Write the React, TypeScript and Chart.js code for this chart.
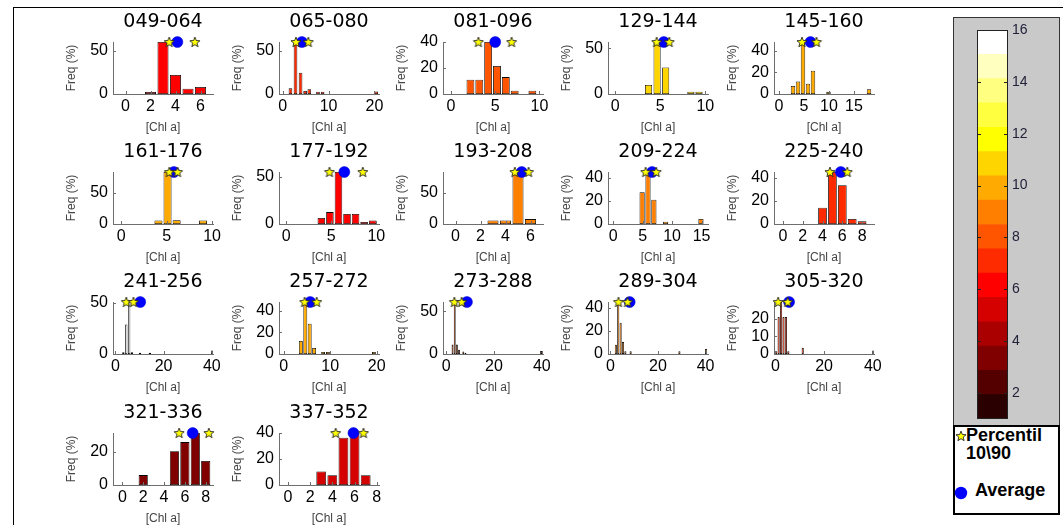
import React, { useEffect, useRef } from "react";
import { Chart, registerables } from "chart.js";

Chart.register(...registerables);

const FONT = '"Liberation Sans", Arial, Helvetica, sans-serif';
const TITLE_FONT = '"DejaVu Sans", Verdana, sans-serif';
Chart.defaults.font.family = FONT;

// ---------- data ----------
const titles = ["049-064", "065-080", "081-096", "129-144", "145-160", "161-176", "177-192", "193-208", "209-224", "225-240", "241-256", "257-272", "273-288", "289-304", "305-320", "321-336", "337-352"];
const barColors = ["#FF0000", "#FF2B00", "#FF5500", "#FFD500", "#FFAA00", "#FFAA00", "#FF0000", "#FF8000", "#FF8000", "#FF2B00", "#FFFFFF", "#FFAA00", "#FF5500", "#FF8000", "#FF2B00", "#800000", "#D50000"];
const binCenters = [
  [2, 3, 4, 5, 6],
  [1.7, 2.8, 3.9, 4.9, 5.8, 7.7, 8.7, 20.4],
  [2.2, 3.2, 4.2, 5.2, 6.2, 7.2, 9.2],
  [3.7, 4.65, 5.6, 8.4, 9.3],
  [2.8, 3.8, 4.8, 5.8, 6.8, 9.9, 18],
  [4.1, 5.1, 6.1, 9.0],
  [3.9, 4.85, 5.8, 6.75, 7.7, 8.65, 9.6],
  [3, 4, 5, 6],
  [4.9, 5.9, 6.9, 8.9, 14.9],
  [4, 5, 6, 7, 8],
  [3.3, 4.5, 5.7, 6.8, 10.2, 14.3, 40.2],
  [3.7, 4.65, 5.6, 6.55, 8.5, 9.5, 19.4],
  [2.7, 3.6, 4.5, 5.4, 7.2, 8.1, 39.7],
  [2.3, 3.3, 4.3, 5.3, 6.3, 8.5, 29, 40.2],
  [0.3, 1.3, 2.3, 3.3, 4.3, 5.3, 11.2, 40.2],
  [2, 5, 6, 7, 8],
  [3, 4, 5, 6, 7],
];
const freqValues = [
  [2.3, 60, 22, 6, 8],
  [6.5, 60, 24.5, 3.5, 5.4, 2.7, 2.7, 2.9],
  [11, 11, 40, 21.5, 13, 2.5, 2.5],
  [10, 57, 29, 2.5, 2.5],
  [7.5, 11.5, 48, 9.4, 21.5, 2, 4.5],
  [5.5, 83, 6, 5.5],
  [6.3, 12.6, 55, 10.5, 10.5, 2.1, 3.8],
  [5.7, 5.7, 84, 7.9],
  [27.5, 45, 21, 2, 4.3],
  [14, 45, 33.5, 4.3, 2.3],
  [1.6, 29, 51, 1.6, 1.3, 1.3, 3.5],
  [12, 48, 28, 5.6, 1.9, 1.9, 1.9],
  [11, 61, 11, 5, 3, 1.5, 3.5],
  [8, 45, 27, 10.4, 2.3, 2.3, 2.3, 4.3],
  [1.5, 21, 29.5, 21, 21, 1.5, 3.5, 2],
  [6, 20.5, 26, 31.5, 14.5],
  [10.4, 7.5, 36.3, 40, 7.5],
];
const p10Values = [3.5, 2.9, 3.1, 4.6, 4.6, 5.3, 4.8, 4.75, 5.5, 4.75, 4.5, 4.5, 3.45, 3.4, 1.1, 5.45, 4.3];
const p90Values = [5.55, 5.6, 6.85, 6.0, 7.5, 6.2, 8.5, 5.85, 7.3, 6.5, 7.5, 7.1, 6.5, 7.2, 5.0, 8.3, 6.8];
const meanValues = [4.15, 4.2, 5.0, 5.4, 6.3, 5.8, 6.45, 5.3, 6.6, 5.85, 10.3, 5.7, 8.7, 8.1, 5.6, 6.75, 5.9];
const xMinValues = [-1, -0.8, -0.9, -0.8, -1, -0.9, -0.8, -1, -0.9, -0.9, -1, -1, -1.3, -1, -0.6, -0.9, -0.8];
const xMaxValues = [7, 21, 10.4, 10.3, 19, 10.1, 10.3, 7, 16.1, 9.2, 40.5, 20.5, 40.5, 41, 40.5, 8.7, 8.2];
const xTickValues = [[0, 2, 4, 6], [0, 10, 20], [0, 5, 10], [0, 5, 10], [0, 5, 10, 15], [0, 5, 10], [0, 5, 10], [0, 2, 4, 6], [0, 5, 10, 15], [0, 2, 4, 6, 8], [0, 20, 40], [0, 10, 20], [0, 20, 40], [0, 20, 40], [0, 20, 40], [0, 2, 4, 6, 8], [0, 2, 4, 6, 8]];
const yMaxValues = [60, 60, 40, 57, 48, 83, 55, 84, 45, 45, 51, 48, 61, 45, 29.5, 31.5, 40];
const yTickValues = [[0, 50], [0, 50], [0, 20, 40], [0, 50], [0, 20, 40], [0, 50], [0, 50], [0, 50], [0, 20, 40], [0, 20, 40], [0, 50], [0, 20, 40], [0, 50], [0, 20, 40], [0, 10, 20], [0, 20], [0, 20, 40]];

// colour bar (hot, 16 levels over 1..16)
const cmapColors = ["#2B0000", "#550000", "#800000", "#AA0000", "#D50000", "#FF0000", "#FF2B00", "#FF5500", "#FF8000", "#FFAA00", "#FFD500", "#FFFF00", "#FFFF40", "#FFFF80", "#FFFFBF", "#FFFFFF"];
const cmapEdges = [1, 1.9375, 2.875, 3.8125, 4.75, 5.6875, 6.625, 7.5625, 8.5, 9.4375, 10.375, 11.3125, 12.25, 13.1875, 14.125, 15.0625, 16];
const cbarTicks = [2, 4, 6, 8, 10, 12, 14, 16];

// ---------- layout ----------
const PLOT_LEFT = [113, 279, 443, 608, 774];
const PLOT_TOP = [42, 172, 302, 433];
const PLOT_W = 100;
const PLOT_H = 52;
const PAD_L = 60;
const PAD_T = 42;
const PAD_R = 16;
const PAD_B = 42;
const AXIS = "#6e6e6e";

function starPoints(cx: number, cy: number, R: number, r: number): [number, number][] {
  const pts: [number, number][] = [];
  for (let i = 0; i < 10; i++) {
    const rad = i % 2 === 0 ? R : r;
    const a = -Math.PI / 2 + (i * Math.PI) / 5;
    pts.push([cx + rad * Math.cos(a), cy + rad * Math.sin(a)]);
  }
  return pts;
}

let starCanvas: HTMLCanvasElement | null = null;
function getStar(): HTMLCanvasElement {
  if (starCanvas) return starCanvas;
  const size = 12;
  const c = document.createElement("canvas");
  c.width = size;
  c.height = size;
  const ctx = c.getContext("2d")!;
  const pts = starPoints(size / 2, size / 2 + 0.4, 5.3, 2.3);
  ctx.beginPath();
  pts.forEach(([x, y], i) => (i === 0 ? ctx.moveTo(x, y) : ctx.lineTo(x, y)));
  ctx.closePath();
  ctx.fillStyle = "#FFFF00";
  ctx.fill();
  ctx.lineWidth = 0.9;
  ctx.strokeStyle = "#222";
  ctx.stroke();
  starCanvas = c;
  return c;
}

const panelDecor = {
  id: "panelDecor",
  afterDraw(chart: any, _args: any, opts: any) {
    const { ctx, chartArea: a, scales } = chart;
    ctx.save();
    ctx.strokeStyle = AXIS;
    ctx.lineWidth = 1;
    for (const t of scales.x.ticks) {
      const px = Math.round(scales.x.getPixelForValue(t.value)) + 0.5;
      ctx.beginPath();
      ctx.moveTo(px, a.bottom);
      ctx.lineTo(px, a.bottom - 3);
      ctx.stroke();
    }
    for (const t of scales.y.ticks) {
      const py = Math.round(scales.y.getPixelForValue(t.value)) + 0.5;
      ctx.beginPath();
      ctx.moveTo(a.left, py);
      ctx.lineTo(a.left + 3, py);
      ctx.stroke();
    }
    ctx.fillStyle = "#000";
    ctx.font = `19px ${TITLE_FONT}`;
    ctx.textAlign = "center";
    ctx.textBaseline = "middle";
    ctx.fillText(opts.title, (a.left + a.right) / 2, a.top - 20);
    ctx.restore();
  },
};

function HistPanel({ index }: { index: number }) {
  const ref = useRef<HTMLCanvasElement>(null);
  const col = index % 5;
  const row = Math.floor(index / 5);
  const cw = PAD_L + PLOT_W + PAD_R;
  const ch = PAD_T + PLOT_H + PAD_B;

  useEffect(() => {
    const bins = binCenters[index];
    const freqs = freqValues[index];
    const yMax = yMaxValues[index];
    const xt = xTickValues[index];
    const yt = yTickValues[index];
    const chart = new Chart(ref.current!, {
      type: "bar",
      data: {
        datasets: [
          {
            type: "scatter",
            data: [
              { x: p10Values[index], y: yMax },
              { x: p90Values[index], y: yMax },
            ],
            pointStyle: getStar(),
            pointRadius: 6,
            clip: false,
          } as any,
          {
            type: "scatter",
            data: [{ x: meanValues[index], y: yMax }],
            pointStyle: "circle",
            pointRadius: 5.5,
            backgroundColor: "#0000FF",
            borderColor: "#0000D0",
            borderWidth: 0.5,
            clip: false,
          } as any,
          {
            type: "bar",
            data: bins.map((b, i) => ({ x: b, y: freqs[i] })),
            backgroundColor: barColors[index],
            borderColor: "#000",
            borderWidth: 0.8,
            borderSkipped: false,
            barPercentage: 0.88,
            categoryPercentage: 1,
          } as any,
        ],
      },
      options: {
        responsive: false,
        animation: false,
        events: [],
        layout: { padding: { left: 0, top: PAD_T, right: PAD_R, bottom: 0 } },
        plugins: {
          legend: { display: false },
          tooltip: { enabled: false },
          panelDecor: { title: titles[index] },
        } as any,
        scales: {
          x: {
            type: "linear",
            min: xMinValues[index],
            max: xMaxValues[index],
            offset: false,
            afterBuildTicks: (s: any) => {
              s.ticks = xt.map((v) => ({ value: v }));
            },
            afterFit: (s: any) => {
              s.height = PAD_B;
              s.paddingLeft = 0;
              s.paddingRight = 0;
            },
            grid: { display: false, drawTicks: false },
            border: { display: true, color: AXIS, width: 1 },
            ticks: {
              padding: 3,
              color: "#000",
              font: { family: FONT, size: 16 },
              maxRotation: 0,
              autoSkip: false,
              callback: (v: any) => String(v),
            },
            title: {
              display: true,
              text: "[Chl a]",
              color: "#444",
              font: { family: FONT, size: 12 },
              padding: { top: 0, bottom: 1 },
            },
          },
          y: {
            min: 0,
            max: yMax,
            afterBuildTicks: (s: any) => {
              s.ticks = yt.map((v) => ({ value: v }));
            },
            afterFit: (s: any) => {
              s.width = PAD_L;
              s.paddingTop = 0;
              s.paddingBottom = 0;
            },
            grid: { display: false, drawTicks: false },
            border: { display: true, color: AXIS, width: 1 },
            ticks: {
              padding: 5,
              color: "#000",
              font: { family: FONT, size: 16 },
              autoSkip: false,
              callback: (v: any) => String(v),
            },
            title: {
              display: true,
              text: "Freq (%)",
              color: "#444",
              font: { family: FONT, size: 12 },
              padding: { top: 11.5, bottom: 0 },
            },
          },
        } as any,
      },
      plugins: [panelDecor as any],
    });
    return () => chart.destroy();
  }, [index]);

  return (
    <canvas
      ref={ref}
      width={cw}
      height={ch}
      style={{ position: "absolute", left: PLOT_LEFT[col] - PAD_L, top: PLOT_TOP[row] - PAD_T, width: cw, height: ch }}
    />
  );
}

const cbarDecor = {
  id: "cbarDecor",
  afterDraw(chart: any) {
    const { ctx, chartArea: a, scales } = chart;
    ctx.save();
    ctx.strokeStyle = "#222";
    ctx.lineWidth = 1;
    ctx.strokeRect(Math.round(a.left) + 0.5, Math.round(a.top) + 0.5, Math.round(a.right - a.left) - 1, Math.round(a.bottom - a.top) - 1);
    for (const t of scales.y.ticks) {
      const py = Math.round(scales.y.getPixelForValue(t.value)) + 0.5;
      ctx.beginPath();
      ctx.moveTo(a.left, py);
      ctx.lineTo(a.left + 4, py);
      ctx.moveTo(a.right, py);
      ctx.lineTo(a.right - 4, py);
      ctx.stroke();
    }
    ctx.restore();
  },
};

function ColorBar() {
  const ref = useRef<HTMLCanvasElement>(null);
  useEffect(() => {
    const chart = new Chart(ref.current!, {
      type: "bar",
      data: {
        labels: [""],
        datasets: cmapColors.map((c, i) => ({
          data: [[cmapEdges[i], cmapEdges[i + 1]]],
          backgroundColor: c,
          borderWidth: 0,
          barPercentage: 1,
          categoryPercentage: 1,
          grouped: false,
        })) as any,
      },
      options: {
        responsive: false,
        animation: false,
        events: [],
        layout: { padding: { left: 17, top: 20, right: 0, bottom: 11 } },
        plugins: { legend: { display: false }, tooltip: { enabled: false } },
        scales: {
          x: { display: false },
          y: {
            position: "right",
            min: 1,
            max: 16,
            afterBuildTicks: (s: any) => {
              s.ticks = cbarTicks.map((v) => ({ value: v }));
            },
            afterFit: (s: any) => {
              s.width = 52;
              s.paddingTop = 0;
              s.paddingBottom = 0;
            },
            grid: { display: false, drawTicks: false },
            border: { display: false },
            ticks: { padding: 4, color: "#22223a", font: { family: FONT, size: 14 }, autoSkip: false },
          },
        } as any,
      },
      plugins: [cbarDecor as any],
    });
    return () => chart.destroy();
  }, []);
  return <canvas ref={ref} width={100} height={420} style={{ position: "absolute", left: 960, top: 10, width: 100, height: 420 }} />;
}

function StarIcon({ left, top }: { left: number; top: number }) {
  const pts = starPoints(6, 6.4, 5.3, 2.3).map(([x, y]) => `${x.toFixed(2)},${y.toFixed(2)}`).join(" ");
  return (
    <svg width={12} height={12} style={{ position: "absolute", left, top }}>
      <polygon points={pts} fill="#FFFF00" stroke="#222" strokeWidth={0.9} />
    </svg>
  );
}

function Legend() {
  const text: React.CSSProperties = { position: "absolute", font: `bold 18px ${FONT}`, color: "#000", whiteSpace: "nowrap" };
  return (
    <div style={{ position: "absolute", left: 953, top: 425, width: 107, height: 90, boxSizing: "border-box", border: "2px solid #000", background: "#fff" }}>
      <StarIcon left={0} top={3} />
      <div style={{ ...text, left: 11, top: -1, lineHeight: "18px" }}>
        Percentil
        <br />
        {"10\\90"}
      </div>
      <svg width={14} height={14} style={{ position: "absolute", left: -1, top: 59 }}>
        <circle cx={7} cy={7} r={6.2} fill="#0000FF" />
      </svg>
      <div style={{ ...text, left: 20, top: 53, lineHeight: "20px" }}>Average</div>
    </div>
  );
}

export default function App() {
  return (
    <div style={{ position: "absolute", left: 0, top: 0, width: 1063, height: 525, background: "#fff", overflow: "hidden", fontFamily: FONT }}>
      <div style={{ position: "absolute", left: 13, top: 7, width: 1100, height: 600, borderTop: "1px solid #000", borderLeft: "1px solid #000" }} />
      {titles.map((t, i) => (
        <HistPanel key={t} index={i} />
      ))}
      <div style={{ position: "absolute", left: 953, top: 17, width: 107, height: 409, boxSizing: "border-box", border: "1px solid #333", background: "#C9C9C9" }} />
      <ColorBar />
      <Legend />
    </div>
  );
}
